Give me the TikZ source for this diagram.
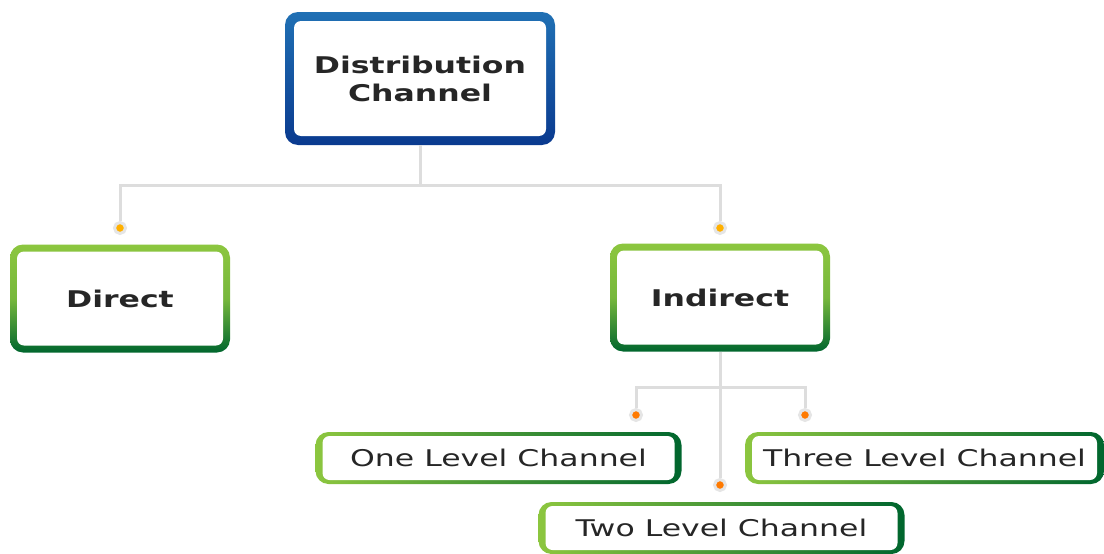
\documentclass[tikz,border=0pt]{standalone}
\usepackage{fontspec}
\setmainfont{DejaVu Sans}
\usepackage{graphicx}

% wide lettering of the chart
\newcommand{\wtext}[1]{\scalebox{1.37}[1]{#1}}

\definecolor{topblue}{HTML}{2070B4}
\definecolor{botblue}{HTML}{0A3A8F}
\definecolor{lightgreen}{HTML}{8CC63F}
\definecolor{darkgreen}{HTML}{00662E}
\definecolor{linkgray}{HTML}{DDDDDD}
\definecolor{dotyellow}{HTML}{FFB000}
\definecolor{dotorange}{HTML}{FF7A00}

\tikzset{
  box/.style 2 args={rounded corners=13pt, inner sep=0pt, text=black!85,
    path picture={\fill[white, rounded corners=7pt]
      ([shift={(#1,-#2)}]path picture bounding box.north west) rectangle
      ([shift={(-#1,#2)}]path picture bounding box.south east);}},
  rootbox/.style={box={9pt}{9pt}, top color=topblue, bottom color=botblue,
    minimum width=270pt, minimum height=133pt,
    font=\fontsize{23}{28}\selectfont\bfseries, align=center},
  kindbox/.style={box={7pt}{7pt}, top color=lightgreen, bottom color=darkgreen,
    middle color=lightgreen!85!darkgreen,
    minimum width=220pt, minimum height=108pt,
    font=\fontsize{23}{28}\selectfont\bfseries},
  levelbox/.style={box={7pt}{4pt}, left color=lightgreen, right color=darkgreen,
    minimum width=366pt, minimum height=52pt,
    font=\fontsize{23}{28}\selectfont},
  link/.style={draw=linkgray, line width=3pt},
  dot/.style={circle, inner sep=0pt, minimum size=11pt, draw=black!10,
    line width=3pt, fill=#1}
}

\begin{document}
\begin{tikzpicture}[x=1pt, y=-1pt]
  \useasboundingbox (0,0) rectangle (1104,554);

  % boxes
  \node[rootbox] (root) at (420,78.5) {\wtext{Distribution}\\\wtext{Channel}};
  \node[kindbox] (direct) at (120,298.5) {\wtext{Direct}};
  \node[kindbox] (indirect) at (720,297.5) {\wtext{Indirect}};
  \node[levelbox] (one) at (498.5,458) {\wtext{One Level Channel}};
  \node[levelbox] (two) at (721.5,528) {\wtext{Two Level Channel}};
  \node[levelbox, minimum width=359pt] (three) at (924.5,458) {\wtext{Three Level Channel}};

  % joints of the lines
  \coordinate (j1) at (420,185);
  \coordinate (j2) at (720,387);

  % dots
  \node[dot=dotyellow] (d1) at (120,228) {};
  \node[dot=dotyellow] (d2) at (720,228) {};
  \node[dot=dotorange] (d3) at (636,415) {};
  \node[dot=dotorange] (d4) at (720,485) {};
  \node[dot=dotorange] (d5) at (805,415) {};

  % lines
  \draw[link] (root.south) -- (j1) -| (d1);
  \draw[link] (j1) -| (d2);
  \draw[link] (indirect.south) -- (d4);
  \draw[link] (j2) -| (d3);
  \draw[link] (j2) -| (d5);
\end{tikzpicture}
\end{document}
